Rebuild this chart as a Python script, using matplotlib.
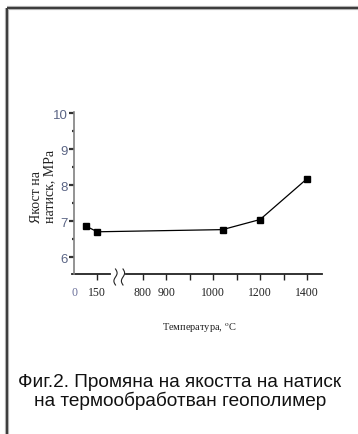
import numpy as np
import matplotlib
matplotlib.use("Agg")
import matplotlib.pyplot as plt
from matplotlib.lines import Line2D

# ---- data ----
temperature = [80, 150, 1040, 1200, 1400]
strength = [6.86, 6.71, 6.77, 7.05, 8.18]
x_ticks = [0, 150, 700, 800, 900, 1000, 1100, 1200, 1300, 1400]
x_tick_labels = ["0", "150", "800", "900", "", "1000", "", "1200", "", "1400"]
y_ticks = [6, 7, 8, 9, 10]
y_minor = [6.5, 7.5, 8.5, 9.5]
y_label = "Якост на\nнатиск, MPa"
x_label = "Температура, $^{\\mathrm{o}}$C"
caption = "Фиг.2. Промяна на якостта на натиск\nна термообработван геополимер"

W, H = 358, 435
plt.rcParams["mathtext.fontset"] = "stix"
fig = plt.figure(figsize=(W / 100, H / 100), dpi=100)
fig.patch.set_facecolor("white")

def fx(x):
    return x / W

def fy(y):
    return 1 - y / H

# frame (top and left edges)
for col, lw in (("#b0b0b0", 3.0), ("#3a3a3a", 1.4)):
    fig.add_artist(Line2D([fx(7), fx(W + 5)], [fy(9), fy(9)], color=col, lw=lw,
                          transform=fig.transFigure, solid_capstyle="butt"))
    fig.add_artist(Line2D([fx(7), fx(7)], [fy(9), fy(H + 5)], color=col, lw=lw,
                          transform=fig.transFigure, solid_capstyle="butt"))

# axes
L, R, T, B = 74, 322, 113, 275
ax = fig.add_axes([fx(L), fy(B), (R - L) / W, (B - T) / H])

# piecewise (broken) x scale
xp = np.array([-200.0, 0.0, 150.0, 700.0, 1400.0, 2000.0])
s1 = (97.3 - 74.0) / 150.0
s2 = (307.0 - 142.8) / 700.0
fp = np.array([74.0 - 200 * s1, 74.0, 97.3, 142.8, 307.0, 307.0 + 600 * s2])

def fwd(v):
    return np.interp(v, xp, fp)

def inv(v):
    return np.interp(v, fp, xp)

ax.set_xscale("function", functions=(fwd, inv))
x_right = 1400 + (R - 307.0) / s2
ax.set_xlim(0, x_right)
ax.set_ylim(5.54, 10.03)

ax.plot(temperature, strength, color="black", lw=0.9, marker="s",
        markersize=4.6, markerfacecolor="black", markeredgecolor="black")

# spines
for sp in ("top", "right", "bottom"):
    ax.spines[sp].set_visible(False)
ax.spines["left"].set_color("#808080")
ax.spines["left"].set_linewidth(1.2)

# broken bottom axis
xtr = ax.get_xaxis_transform()
ax.plot([-10, 300], [0, 0], color="#222222", lw=1.3, transform=xtr, clip_on=False)
ax.plot([500, x_right], [0, 0], color="#222222", lw=1.3, transform=xtr, clip_on=False)

# break squiggles
s = np.linspace(0, 1, 40)
for x0 in (115.5, 123.0):
    xs = x0 + 1.6 * np.sin(2 * np.pi * s)
    ys = 270 + 16 * s
    fig.add_artist(Line2D(fx(xs), fy(ys), color="#222222", lw=0.8,
                          transform=fig.transFigure))

# ticks
ax.set_xticks(x_ticks)
ax.set_xticklabels(x_tick_labels, fontfamily=["Liberation Serif"], fontsize=8.5)
ax.tick_params(axis="x", direction="in", length=4, width=1.0, color="#222222",
               pad=9, labelcolor="#222222")
for lab in ax.get_xticklabels():
    if lab.get_text() == "0":
        lab.set_color("#6a6f9a")
ax.xaxis.get_major_ticks()[0].tick1line.set_visible(False)
for t in ax.xaxis.get_major_ticks():
    t.tick1line.set_marker(3)  # tick drawn below the axis line

ax.set_yticks(y_ticks)
ax.set_yticks(y_minor, minor=True)
ax.set_yticklabels([str(v) for v in y_ticks],
                   fontfamily=["Liberation Sans Narrow", "Liberation Sans"], fontsize=9.5)
ax.tick_params(axis="y", which="major", direction="out", length=3.5, width=1.6,
               color="#333333", pad=0.8, labelcolor="#5b6585")
ax.tick_params(axis="y", which="minor", direction="out", length=1.5, width=1.6,
               color="#333333")

# axis labels
fig.text(fx(43), fy(223), y_label, rotation=90, ha="center", va="bottom",
         multialignment="left", fontfamily=["Liberation Serif"], fontsize=10,
         linespacing=1.0, color="#222222")
fig.text(fx(199), fy(328), x_label, ha="center", va="center",
         fontfamily=["Liberation Serif"], fontsize=7.5, color="#222222")

# caption
fig.text(fx(180), fy(392), caption, ha="center", va="center",
         fontfamily=["Liberation Sans"], fontsize=13.7, linespacing=1.0,
         color="#111111")

fig.savefig("out.png", dpi=100, facecolor="white")
